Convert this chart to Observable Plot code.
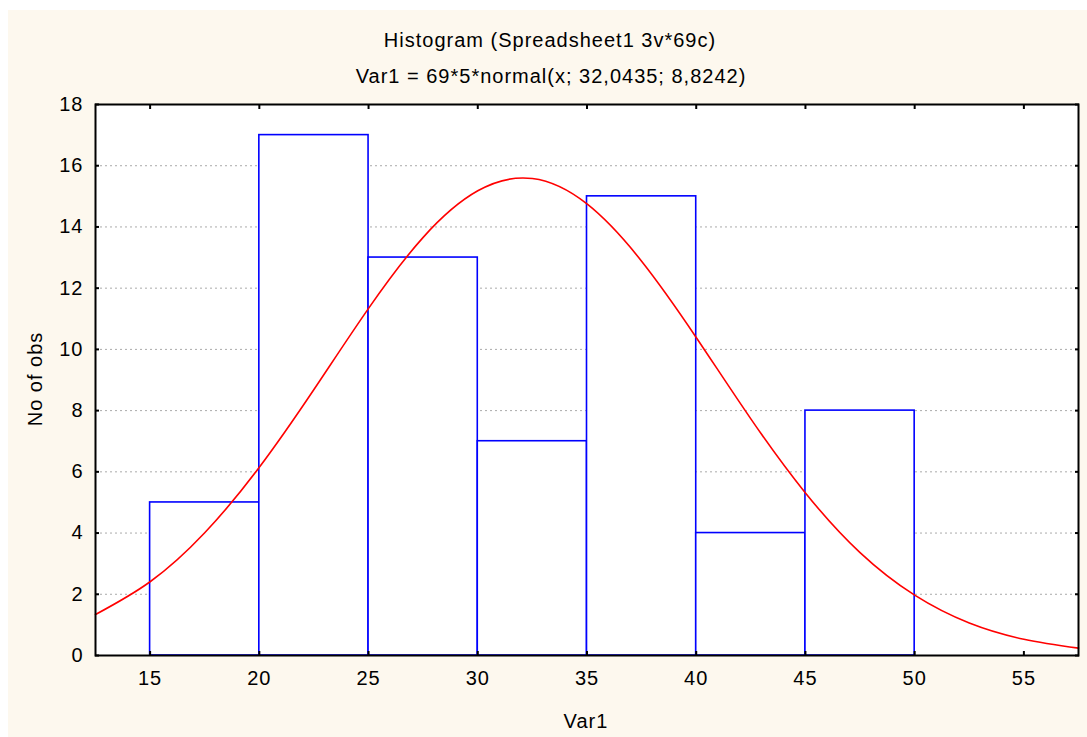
<!DOCTYPE html>
<html>
<head>
<meta charset="utf-8">
<script src="https://cdn.jsdelivr.net/npm/d3@7"></script>
<script src="https://cdn.jsdelivr.net/npm/@observablehq/plot@0.6"></script>
<style>
  html, body { margin: 0; padding: 0; background: #ffffff; }
  #wrap { position: relative; width: 1087px; height: 737px; overflow: hidden; font-family: "Liberation Sans", Arial, sans-serif; }
  #bg { position: absolute; left: 8px; top: 10px; right: 0; bottom: 0; background: #fdf8ee; }
  .t { position: absolute; color: #000; font-size: 20px; letter-spacing: 1px; white-space: nowrap; transform: translate(-50%, -50%); }
  #chart { position: absolute; left: 0; top: 0; }
</style>
</head>
<body>
<div id="wrap">
  <div id="bg"></div>
  <div id="chart"></div>
  <div class="t" style="left:550px; top:40px;">Histogram (Spreadsheet1 3v*69c)</div>
  <div class="t" style="left:551px; top:76px;">Var1 = 69*5*normal(x; 32,0435; 8,8242)</div>
  <div class="t" style="left:586px; top:721px;">Var1</div>
  <div class="t" style="left:35px; top:379px; transform: translate(-50%, -50%) rotate(-90deg);">No of obs</div>
</div>
<script>
// Histogram bins (lower edge, upper edge) and counts
const binLo = [15, 20, 25, 30, 35, 40, 45];
const binHi = [20, 25, 30, 35, 40, 45, 50];
const counts = [5, 17, 13, 7, 15, 4, 8];

// Fitted normal curve
const curveX = [12.5, 15, 17.5, 20, 22.5, 25, 27.5, 30, 32.5, 35, 37.5, 40, 42.5, 45, 47.5, 50, 52.5, 55, 57.5];
const curveY = [1.34, 2.41, 4.01, 6.15, 8.69, 11.34, 13.66, 15.18, 15.58, 14.75, 12.88, 10.39, 7.73, 5.31, 3.36, 1.97, 1.06, 0.53, 0.24];

const xTicks = [15, 20, 25, 30, 35, 40, 45, 50, 55];
const yTicks = [0, 2, 4, 6, 8, 10, 12, 14, 16, 18];

const bars = binLo.map((lo, i) => ({ x1: lo, x2: binHi[i], y: counts[i] }));
const curve = curveX.map((x, i) => ({ x, y: curveY[i] }));

const chart = Plot.plot({
  width: 1087,
  height: 737,
  marginLeft: 95,
  marginRight: 9,
  marginTop: 104,
  marginBottom: 82,
  style: { background: "transparent", fontFamily: "Liberation Sans, Arial, sans-serif", fontSize: "20px", letterSpacing: "1px", color: "#000" },
  x: { domain: [12.5, 57.5] },
  y: { domain: [0, 18] },
  marks: [
    Plot.frame({ fill: "white", stroke: null }),
    Plot.gridY(yTicks.slice(1, -1), { stroke: "#aaaaaa", strokeOpacity: 1, strokeDasharray: "2,3", strokeWidth: 1 }),
    Plot.rectY(bars, { x1: "x1", x2: "x2", y: "y", fill: "white", stroke: "#0000ff", strokeWidth: 1.6 }),
    Plot.line(curve, { x: "x", y: "y", stroke: "#ff0000", strokeWidth: 1.6, curve: "natural" }),
    Plot.frame({ stroke: "#000", strokeWidth: 2 }),
    Plot.axisX(xTicks, { anchor: "bottom", tickSize: -4, tickPadding: 19, label: null, fontSize: 20, strokeWidth: 2 }),
    Plot.axisX(xTicks, { anchor: "top", tickSize: -4, text: null, label: null, strokeWidth: 2 }),
    Plot.axisY(yTicks, { anchor: "left", tickSize: -4, tickPadding: 16, label: null, fontSize: 20, strokeWidth: 2 }),
    Plot.axisY(yTicks, { anchor: "right", tickSize: -4, text: null, label: null, strokeWidth: 2 })
  ]
});
document.getElementById("chart").appendChild(chart);
</script>
</body>
</html>
